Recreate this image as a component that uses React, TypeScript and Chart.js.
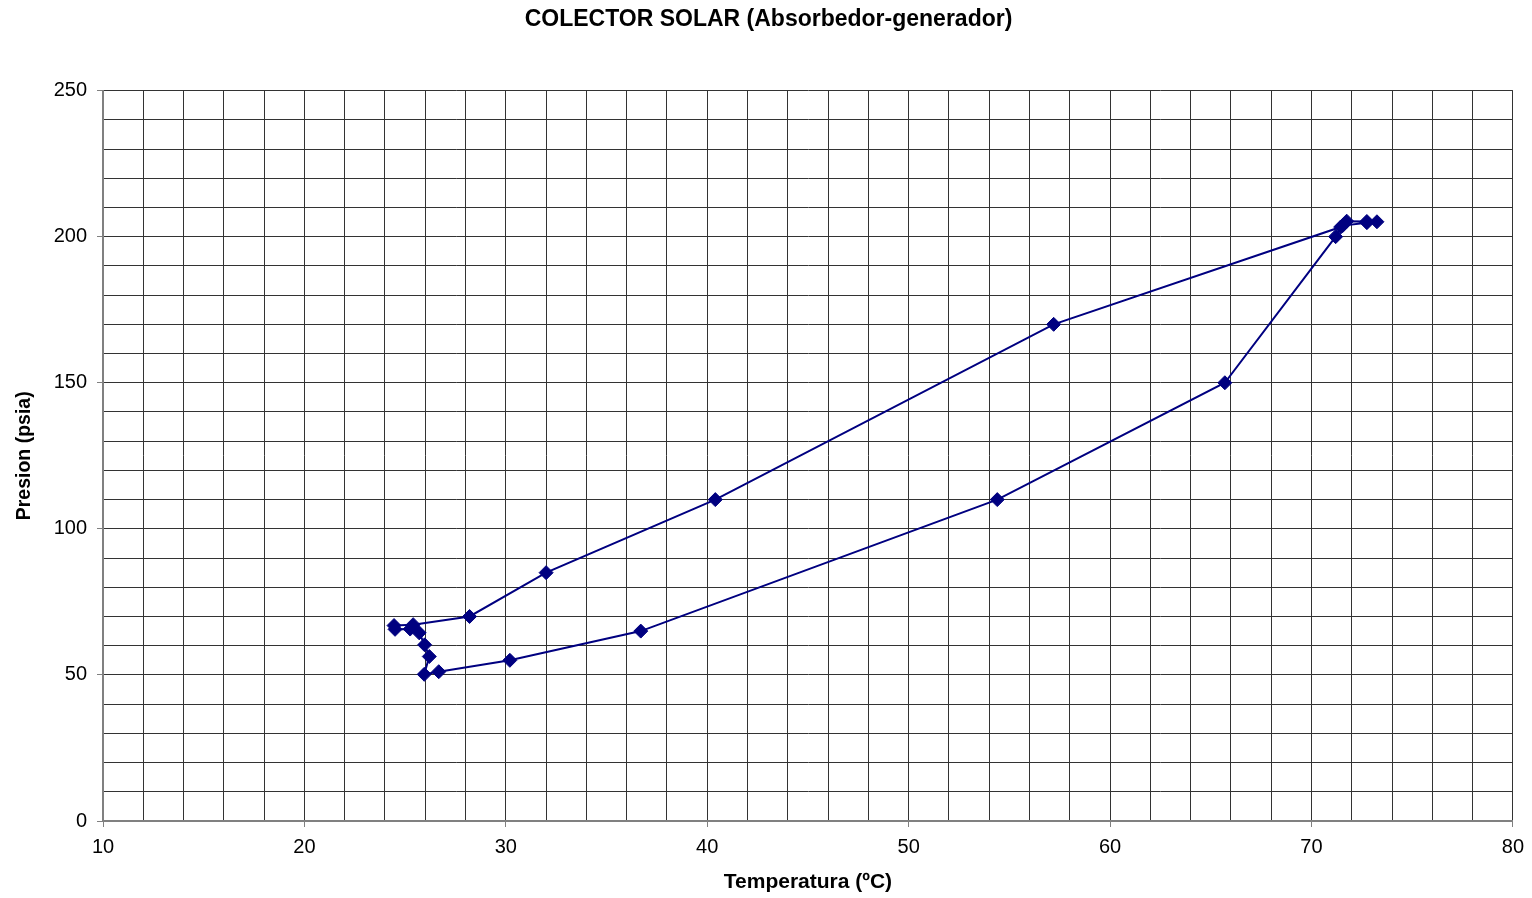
import React, { useEffect, useRef } from "react";
import { Chart, registerables } from "chart.js";

Chart.register(...registerables);

const chartTitle = "COLECTOR SOLAR (Absorbedor-generador)";
const xAxisTitle = "Temperatura (ºC)";
const yAxisTitle = "Presion (psia)";

const temperatura = [
  24.45, 25.4, 28.2, 32.0, 40.4, 57.2, 71.45, 71.75, 72.75, 73.25, 72.75, 71.55,
  71.2, 65.7, 54.4, 36.7, 30.2, 26.67, 25.95, 26.2, 25.97, 25.7, 25.25, 24.5,
];
const presion = [
  66.9, 67.2, 70, 85, 110, 170, 203.3, 205.3, 205.2, 205.1, 204.8, 203.8,
  200, 150, 110, 65, 55, 51.1, 50.2, 56.3, 60.3, 64.4, 65.7, 65.6,
];

const xMin = 10;
const xMax = 80;
const xStep = 2;
const xLabelEvery = 10;
const yMin = 0;
const yMax = 250;
const yStep = 10;
const yLabelEvery = 50;

const FONT = "Arial, 'Liberation Sans', sans-serif";
const GRID = "#333333";
const NAVY = "#000080";

export default function App() {
  const ref = useRef<HTMLCanvasElement | null>(null);

  useEffect(() => {
    if (!ref.current) return;
    const points = temperatura.map((t, i) => ({ x: t, y: presion[i] }));
    const chart = new Chart(ref.current, {
      type: "scatter",
      data: {
        datasets: [
          {
            data: points,
            showLine: true,
            borderColor: NAVY,
            backgroundColor: NAVY,
            borderWidth: 2,
            pointStyle: "rectRot",
            pointRadius: 7,
            pointBorderWidth: 1,
            pointBackgroundColor: NAVY,
            pointBorderColor: NAVY,
            tension: 0,
          },
        ],
      },
      options: {
        responsive: false,
        animation: false,
        layout: { padding: { left: 23, right: 18, top: 0, bottom: 0 } },
        plugins: {
          legend: { display: false },
          tooltip: { enabled: false },
          title: {
            display: true,
            text: chartTitle,
            color: "#000",
            font: { family: FONT, size: 23, weight: "bold" },
            padding: { top: 6, bottom: 57 },
          },
        },
        scales: {
          x: {
            type: "linear",
            min: xMin,
            max: xMax,
            afterFit: (scale: any) => {
              scale.height = 77;
            },
            border: { display: true, color: "#808080", width: 2 },
            grid: {
              color: GRID,
              lineWidth: 1,
              tickLength: 6,
              tickColor: (ctx: any) =>
                ctx.tick && ctx.tick.value % xLabelEvery === 0 ? "#808080" : "rgba(0,0,0,0)",
            },
            ticks: {
              stepSize: xStep,
              autoSkip: false,
              maxRotation: 0,
              padding: 8,
              color: "#000",
              font: { family: FONT, size: 20 },
              callback: (v: any) => (Number(v) % xLabelEvery === 0 ? String(v) : ""),
            },
            title: {
              display: true,
              text: xAxisTitle,
              color: "#000",
              font: { family: FONT, size: 21, weight: "bold" },
              padding: { top: 0, bottom: 3 },
            },
          },
          y: {
            type: "linear",
            min: yMin,
            max: yMax,
            afterFit: (scale: any) => {
              scale.width = 80;
            },
            border: { display: true, color: "#808080", width: 2 },
            grid: {
              color: GRID,
              lineWidth: 1,
              tickLength: 6,
              tickColor: (ctx: any) =>
                ctx.tick && ctx.tick.value % yLabelEvery === 0 ? "#808080" : "rgba(0,0,0,0)",
            },
            ticks: {
              stepSize: yStep,
              autoSkip: false,
              padding: 10,
              color: "#000",
              font: { family: FONT, size: 20 },
              callback: (v: any) => (Number(v) % yLabelEvery === 0 ? String(v) : ""),
            },
            title: {
              display: true,
              text: yAxisTitle,
              color: "#000",
              font: { family: FONT, size: 19.5, weight: "bold" },
              padding: { top: -10, bottom: 0 },
            },
          },
        },
      },
    });
    return () => chart.destroy();
  }, []);

  return (
    <div style={{ position: "fixed", left: 0, top: 0, width: 1532, height: 898, background: "#fff" }}>
      <canvas ref={ref} width={1532} height={898} style={{ display: "block" }} />
    </div>
  );
}
